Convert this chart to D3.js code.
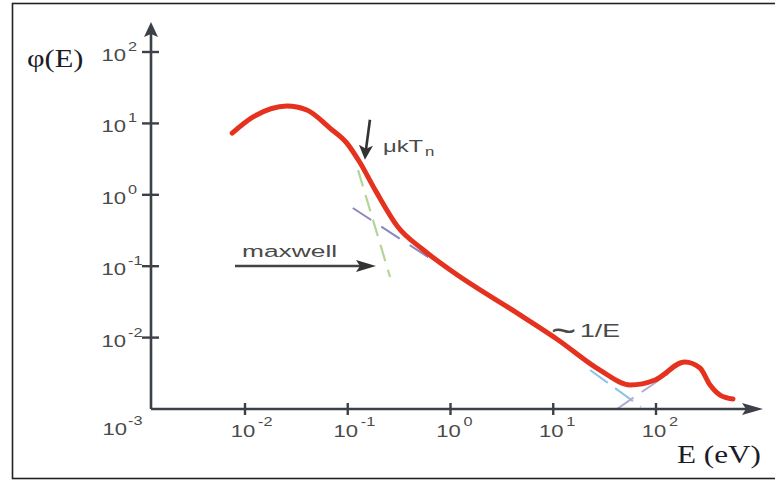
<!DOCTYPE html>
<html>
<head>
<meta charset="utf-8">
<script src="https://cdn.jsdelivr.net/npm/d3@7/dist/d3.min.js"></script>
<style>
  html, body { margin: 0; padding: 0; background: #fff; }
  svg { display: block; }
  text { font-family: "Liberation Sans", Arial, sans-serif; }
  .serif { font-family: "Liberation Serif", "Times New Roman", serif; }
</style>
</head>
<body>
<div id="chart"></div>
<script>
// Neutron flux spectrum phi(E) on log-log axes, with the maxwell / 1/E / fast guides.

// energies (eV) and flux
const energies = [0.0075, 0.012, 0.0256, 0.040, 0.067, 0.098, 0.13, 0.19, 0.308, 0.53, 1.06, 4.7, 10.9, 28.5, 56, 98, 191, 268, 336, 420, 561];
const flux     = [7.3, 12.3, 17.5, 15.4, 8.6, 5.3, 2.9, 1.09, 0.354, 0.174, 0.083, 0.021, 0.0095, 0.0035, 0.00217, 0.00255, 0.00455, 0.00375, 0.00217, 0.00157, 0.00138];

// dashed guide lines, [E, phi] end points
const maxwellGuide = [[0.126, 2.22], [0.258, 0.0706]];
const epiGuide     = [[0.112, 0.653], [0.74, 0.111]];
const tailGuide    = [[22.8, 0.00352], [71.4, 0.00107]];
const fastGuide    = [[41.7, 0.001], [131, 0.00309]];

// ticks
const xTicks = [1e-2, 1e-1, 1, 1e1, 1e2];
const xTickExp = ['-2', '-1', '0', '1', '2'];
const yTicks = [1e2, 1e1, 1, 1e-1, 1e-2];
const yTickExp = ['2', '1', '0', '-1', '-2'];

const W = 775, H = 481;
const SX = 1.3;           // the source picture is stretched sideways
const axisColor = '#3c4047';
const labelColor = '#4a4a4a';

const svg = d3.select('#chart').append('svg').attr('width', W).attr('height', H);

// frame
svg.append('rect').attr('x', 12.5).attr('y', 3.5).attr('width', 775).attr('height', 475)
  .attr('fill', 'none').attr('stroke', '#222').attr('stroke-width', 1.6);

const x = d3.scaleLog().domain([1e-2, 1e2]).range([245, 656]);
const y = d3.scaleLog().domain([1e-3, 1e2]).range([409, 52]);
const x0 = 151, y0 = y(1e-3);

function stretched(parent, px, py, str, size, sx, anchor) {
  return parent.append('text')
    .attr('transform', `translate(${px},${py}) scale(${sx},1)`)
    .attr('text-anchor', anchor || 'start')
    .style('font-size', size + 'px')
    .attr('fill', labelColor)
    .text(str);
}

// guides (under the curve)
const seg = d3.line().x((d) => x(d[0])).y((d) => y(d[1]));
svg.append('path').attr('d', seg(maxwellGuide)).attr('fill', 'none')
  .attr('stroke', '#b3d596').attr('stroke-width', 2.2).attr('stroke-dasharray', '17,9');
svg.append('path').attr('d', seg(epiGuide)).attr('fill', 'none')
  .attr('stroke', '#8b87bf').attr('stroke-width', 2).attr('stroke-dasharray', '22,12');
svg.append('path').attr('d', seg(tailGuide)).attr('fill', 'none')
  .attr('stroke', '#8fc4e6').attr('stroke-width', 2).attr('stroke-dasharray', '22,9');
svg.append('path').attr('d', seg(fastGuide)).attr('fill', 'none')
  .attr('stroke', '#b2aad6').attr('stroke-width', 2).attr('stroke-dasharray', '20,10');

// axes
const g = svg.append('g');
g.append('line').attr('x1', x0).attr('y1', y0).attr('x2', x0).attr('y2', 34)
  .attr('stroke', axisColor).attr('stroke-width', 2.6);
g.append('line').attr('x1', x0).attr('y1', y0).attr('x2', 748).attr('y2', y0)
  .attr('stroke', axisColor).attr('stroke-width', 2.6);
g.append('path').attr('d', `M${x0},22 L${x0 + 7},37 L${x0},34 L${x0 - 7},37 Z`).attr('fill', axisColor);
g.append('path').attr('d', `M763,${y0} L742,${y0 - 6} L746,${y0} L742,${y0 + 6} Z`).attr('fill', axisColor);

// x ticks + labels
xTicks.forEach((t, i) => {
  const px = x(t);
  g.append('line').attr('x1', px).attr('x2', px).attr('y1', y0 - 6).attr('y2', y0 + 6)
    .attr('stroke', axisColor).attr('stroke-width', 2.4);
  stretched(g, px - 2, y0 + 28, '10', 17, SX, 'middle');
  stretched(g, px + 13, y0 + 17, xTickExp[i], 12.5, SX, 'start');
});

// y ticks + labels
yTicks.forEach((t, i) => {
  const py = y(t);
  g.append('line').attr('x1', x0 - 9).attr('x2', x0 + 8).attr('y1', py).attr('y2', py)
    .attr('stroke', axisColor).attr('stroke-width', 2.4);
  stretched(g, 126, py + 9, '10', 17, SX, 'end');
  stretched(g, 128, py - 1, yTickExp[i], 12.5, SX, 'start');
});
// corner 10^-3
stretched(g, 127, y0 + 26, '10', 17, SX, 'end');
stretched(g, 128, y0 + 16, '-3', 12.5, SX, 'start');

// curve
const pts = energies.map((e, i) => [e, flux[i]]);
svg.append('path')
  .attr('d', d3.line().x((d) => x(d[0])).y((d) => y(d[1])).curve(d3.curveMonotoneX)(pts))
  .attr('fill', 'none').attr('stroke', '#e5321f').attr('stroke-width', 5)
  .attr('stroke-linecap', 'round');

// axis titles
svg.append('text').attr('class', 'serif')
  .attr('transform', 'translate(27,67) scale(1.22,1)')
  .style('font-size', '25px').attr('fill', '#1c1c28').text('φ(E)');
svg.append('text').attr('class', 'serif')
  .attr('transform', 'translate(677,463) scale(1.2,1)')
  .style('font-size', '26px').attr('fill', '#1c1c28').text('E (eV)');

// μkTn marker
const tipX = x(0.147), tipY = y(3.1);
svg.append('line').attr('x1', tipX + 5).attr('y1', tipY - 40).attr('x2', tipX + 1).attr('y2', tipY - 10)
  .attr('stroke', '#333').attr('stroke-width', 2.6);
svg.append('path').attr('d', `M${tipX},${tipY} L${tipX - 6},${tipY - 15} L${tipX + 1},${tipY - 11} L${tipX + 8},${tipY - 14} Z`)
  .attr('fill', '#333');
stretched(svg, 383, 152, 'μkT', 17, 1.4, 'start');
stretched(svg, 425, 156, 'n', 12, 1.4, 'start');

// maxwell arrow
stretched(svg, 242, 257, 'maxwell', 17, 1.55, 'start');
svg.append('line').attr('x1', 235).attr('y1', 266).attr('x2', 362).attr('y2', 266)
  .attr('stroke', '#444').attr('stroke-width', 2.4);
svg.append('path').attr('d', 'M376,266 L356,260 L360,266 L356,272 Z').attr('fill', '#333');

// ~1/E
stretched(svg, 551, 343, '~', 36, 1.2, 'start');
stretched(svg, 580, 337, '1/E', 18, 1.48, 'start');
</script>
</body>
</html>
